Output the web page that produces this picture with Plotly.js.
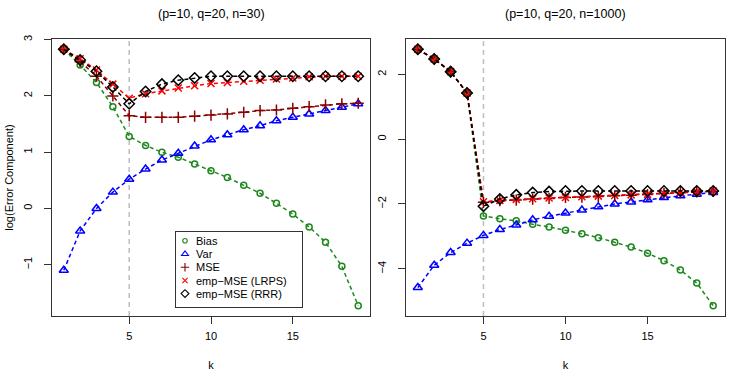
<!DOCTYPE html>
<html>
<head>
<meta charset="utf-8">
<script src="https://cdn.plot.ly/plotly-3.0.1.min.js"></script>
<style>
  html, body { margin: 0; padding: 0; background: #fff; }
  #chart { width: 747px; height: 377px; }
</style>
</head>
<body>
<div id="chart"></div>
<script>
// k = number of components
const kValues = [1, 2, 3, 4, 5, 6, 7, 8, 9, 10, 11, 12, 13, 14, 15, 16, 17, 18, 19];

// (p=10, q=20, n=30)
const bias30 = [2.83, 2.55, 2.24, 1.81, 1.28, 1.12, 1.00, 0.91, 0.79, 0.67, 0.55, 0.41, 0.27, 0.09, -0.10, -0.33, -0.60, -1.03, -1.73];
const var30  = [-1.10, -0.40, 0.00, 0.29, 0.52, 0.70, 0.86, 0.98, 1.11, 1.22, 1.31, 1.40, 1.47, 1.56, 1.62, 1.68, 1.74, 1.80, 1.86];
const mse30  = [2.83, 2.61, 2.35, 2.00, 1.65, 1.62, 1.62, 1.62, 1.64, 1.66, 1.68, 1.71, 1.74, 1.75, 1.78, 1.81, 1.84, 1.86, 1.87];
const lrps30 = [2.83, 2.66, 2.46, 2.21, 1.96, 2.04, 2.09, 2.14, 2.18, 2.22, 2.24, 2.26, 2.28, 2.30, 2.32, 2.34, 2.35, 2.35, 2.35];
const rrr30  = [2.83, 2.64, 2.44, 2.16, 1.86, 2.08, 2.21, 2.28, 2.32, 2.35, 2.35, 2.35, 2.35, 2.35, 2.35, 2.35, 2.35, 2.35, 2.35];

// (p=10, q=20, n=1000)
const bias1000 = [2.77, 2.47, 2.08, 1.42, -2.37, -2.46, -2.52, -2.63, -2.71, -2.81, -2.92, -3.04, -3.18, -3.33, -3.52, -3.75, -4.04, -4.44, -5.14];
const var1000  = [-4.58, -3.89, -3.50, -3.21, -2.97, -2.79, -2.65, -2.49, -2.38, -2.28, -2.19, -2.09, -2.00, -1.94, -1.87, -1.80, -1.75, -1.70, -1.65];
const mse1000  = [2.77, 2.47, 2.08, 1.42, -1.95, -1.90, -1.88, -1.85, -1.83, -1.80, -1.79, -1.77, -1.75, -1.73, -1.71, -1.68, -1.65, -1.63, -1.61];
const lrps1000 = [2.77, 2.47, 2.08, 1.42, -1.93, -1.89, -1.86, -1.84, -1.82, -1.80, -1.78, -1.76, -1.74, -1.72, -1.70, -1.67, -1.64, -1.62, -1.60];
const rrr1000  = [2.77, 2.47, 2.08, 1.42, -2.07, -1.85, -1.72, -1.65, -1.62, -1.60, -1.60, -1.60, -1.60, -1.60, -1.60, -1.60, -1.60, -1.60, -1.60];

const seriesNames = ['Bias', 'Var', 'MSE', 'emp\u2212MSE (LRPS)', 'emp\u2212MSE (RRR)'];
const panelTitles = ['(p=10, q=20, n=30)', '(p=10, q=20, n=1000)'];
const kMarker = 5;

const FONT = 'Liberation Sans, Arial, Helvetica, sans-serif';
const DASH = '4px,3px';

// marker styles per series (R pch 1,2,3,4,5)
const styles = [
    { color: '#1E881E', symbol: 'circle-open', size: 6 },
    { color: '#0000FF', symbol: 'triangle-up-open', size: 8 },
    { color: '#8B0000', symbol: 'cross-thin-open', size: 8 },
    { color: '#FF0000', symbol: 'x-thin-open', size: 7 },
    { color: '#000000', symbol: 'diamond-open', size: 8 }
];

function makeTraces(seriesList, xa, ya, showLegend) {
    return seriesList.map((ys, i) => ({
        x: kValues,
        y: ys,
        xaxis: xa,
        yaxis: ya,
        type: 'scatter',
        mode: 'lines+markers',
        name: seriesNames[i],
        showlegend: showLegend,
        line: { color: styles[i].color, width: 1.5, dash: DASH },
        marker: {
            symbol: styles[i].symbol,
            size: styles[i].size,
            color: styles[i].color,
            line: { color: styles[i].color, width: 1.5 }
        }
    }));
}

// R style range: data range extended by 4%
function rRange(arr) {
    const lo = Math.min(...arr), hi = Math.max(...arr);
    const d = (hi - lo) * 0.04;
    return [lo - d, hi + d];
}

const left = [bias30, var30, mse30, lrps30, rrr30];
const right = [bias1000, var1000, mse1000, lrps1000, rrr1000];

const traces = [
    ...makeTraces(left, 'x', 'y', true),
    ...makeTraces(right, 'x2', 'y2', false)
];

const axisCommon = {
    showline: true,
    mirror: true,
    linecolor: '#333',
    linewidth: 1,
    ticks: 'outside',
    ticklen: 7,
    tickcolor: '#333',
    showgrid: false,
    zeroline: false,
    tickfont: { family: FONT, size: 11, color: '#000' }
};

const xCommon = {
    ...axisCommon,
    range: rRange(kValues),
    tickvals: [5, 10, 15],
    ticklabelstandoff: 3,
    title: { text: 'k', font: { family: FONT, size: 11, color: '#000' }, standoff: 20 }
};

const layout = {
    width: 747,
    height: 377,
    margin: { l: 0, r: 0, t: 39, b: 61 },
    paper_bgcolor: '#fff',
    plot_bgcolor: '#fff',
    font: { family: FONT, size: 11, color: '#000' },
    showlegend: true,
    legend: {
        x: 175 / 747,
        y: 0.307,
        xanchor: 'left',
        yanchor: 'top',
        bgcolor: '#fff',
        bordercolor: '#333',
        borderwidth: 1,
        tracegroupgap: 0,
        font: { family: FONT, size: 11, color: '#000' }
    },
    xaxis: { ...xCommon, domain: [52 / 747, 370 / 747], anchor: 'y' },
    xaxis2: { ...xCommon, domain: [406 / 747, 725 / 747], anchor: 'y2' },
    yaxis: {
        ...axisCommon,
        anchor: 'x',
        range: rRange(left.flat()),
        tickvals: [-1, 0, 1, 2, 3],
        tickangle: -90,
        ticklabelstandoff: 8,
        title: { text: 'log(Error Component)', font: { family: FONT, size: 11, color: '#000' }, standoff: 5 }
    },
    yaxis2: {
        ...axisCommon,
        anchor: 'x2',
        range: rRange(right.flat()),
        tickvals: [-4, -2, 0, 2],
        tickangle: -90,
        ticklabelstandoff: 8
    },
    shapes: ['x', 'x2'].map(xr => ({
        type: 'line',
        xref: xr,
        yref: (xr === 'x' ? 'y' : 'y2') + ' domain',
        x0: kMarker, x1: kMarker, y0: 0, y1: 1,
        line: { color: '#BEBEBE', width: 1.5, dash: '5px,4px' },
        layer: 'below'
    })),
    annotations: panelTitles.map((t, i) => ({
        text: t,
        xref: i === 0 ? 'x domain' : 'x2 domain',
        yref: 'paper',
        x: 0.5,
        y: 1 + 25 / 277,
        xanchor: 'center',
        yanchor: 'middle',
        showarrow: false,
        font: { family: FONT, size: 12.5, color: '#000' }
    }))
};

// R-like compact legend: symbols only, tight rows
function compactLegend(gd) {
    const leg = gd.querySelector('.legend');
    if (!leg) return;
    const box = { x: 175, y: 231, w: 127, h: 76, row: 13.2, first: 9.8 };
    leg.setAttribute('transform', `translate(${box.x},${box.y})`);
    const bg = leg.querySelector('rect.bg');
    bg.setAttribute('x', 0.5);
    bg.setAttribute('y', 0.5);
    bg.setAttribute('width', box.w);
    bg.setAttribute('height', box.h);
    const sb = leg.querySelector('.scrollbox');
    if (sb) { sb.setAttribute('transform', 'translate(0,0)'); sb.removeAttribute('clip-path'); }
    leg.querySelectorAll('.groups').forEach(g => g.setAttribute('transform', 'translate(0,0)'));
    leg.querySelectorAll('.traces').forEach((g, i) => {
        g.setAttribute('transform', `translate(0,${box.first + i * box.row})`);
        g.querySelectorAll('.legendlines').forEach(e => e.style.display = 'none');
        // shrink the symbol a bit around its centre (x=20 inside the item)
        g.querySelectorAll('.legendsymbols').forEach(e =>
            e.setAttribute('transform', 'translate(10,0) scale(0.75) translate(-20,0)'));
        const txt = g.querySelector('.legendtext');
        if (txt) txt.setAttribute('x', 21);
    });
}

Plotly.newPlot('chart', traces, layout, { displayModeBar: false, staticPlot: true })
    .then(compactLegend);
</script>
</body>
</html>
